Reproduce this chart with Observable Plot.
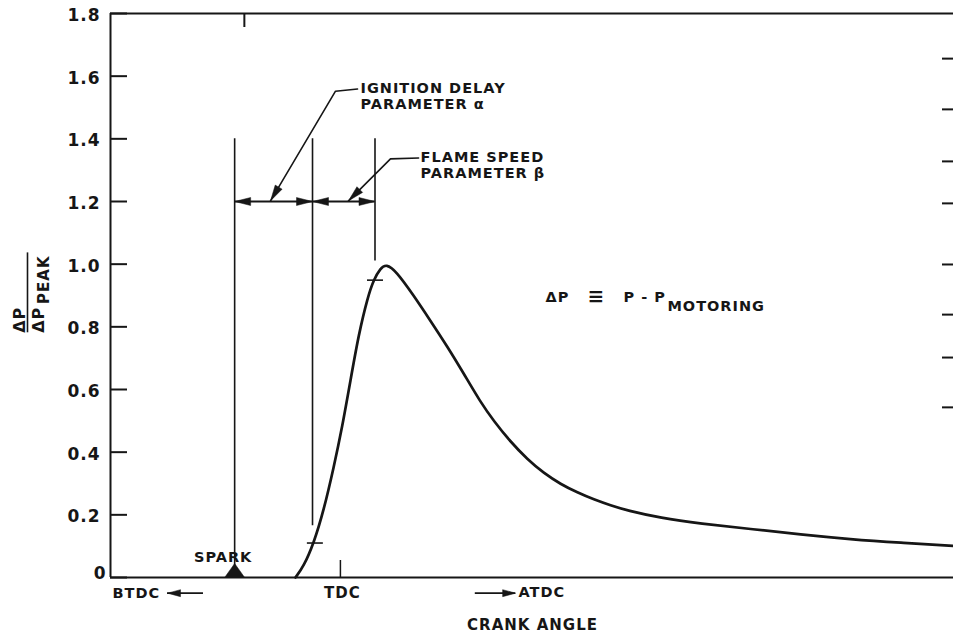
<!DOCTYPE html>
<html>
<head>
<meta charset="utf-8">
<script src="https://cdn.jsdelivr.net/npm/d3@7"></script>
<script src="https://cdn.jsdelivr.net/npm/@observablehq/plot@0.6"></script>
<style>
  html, body { margin: 0; padding: 0; background: #ffffff; }
  #chart svg { display: block; }
</style>
</head>
<body>
<div id="chart"></div>
<script>
// Normalised cylinder pressure rise ΔP/ΔP_peak against crank angle (degrees, TDC = 0)
const crankAngle = [-8.8, -7.2, -5.2, -3.25, -1.3, 0.35, 1.97, 3.6, 5.35, 6.5, 7.85, 9.0, 10.8, 14.35,
  17.6, 20.9, 24.1, 27.4, 30.0, 33.3, 36.6, 39.8, 43.1, 46.4, 49.6, 52.9, 56.1, 62.65, 70.5, 80.3,
  90.1, 99.8, 109.6, 120];
const pressureRatio = [0, 0.035, 0.11, 0.215, 0.352, 0.48, 0.629, 0.778, 0.895, 0.95, 0.988, 1.0, 0.98, 0.90,
  0.82, 0.738, 0.652, 0.56, 0.50, 0.433, 0.377, 0.333, 0.298, 0.271, 0.249, 0.230, 0.214, 0.190, 0.172, 0.155,
  0.137, 0.122, 0.111, 0.101];

// Left axis tick values and the unlabelled ticks on the right edge
const yTicks = [0, 0.2, 0.4, 0.6, 0.8, 1.0, 1.2, 1.4, 1.6, 1.8];
const rightTicks = [1.656, 1.494, 1.328, 1.194, 0.999, 0.839, 0.702, 0.543];

// Key crank angles
const sparkAngle = -20.7;      // spark
const delayEndAngle = -5.46;   // end of ignition delay (10 % point)
const flameEndAngle = 6.77;    // end of flame development (95 % point)
const tdcAngle = 0;
const topTickAngle = -18.8;

// Guide lines: angle, lower end, upper end
const guideX = [sparkAngle, delayEndAngle, flameEndAngle];
const guideLow = [0.03, 0.165, 1.01];
const guideHigh = [1.40, 1.40, 1.40];
const dimensionLevel = 1.2;

// 10 % and 95 % markers on the curve
const markerAngle = [-5.0, flameEndAngle];
const markerValue = [0.11, 0.949];

// Leader lines from the parameter labels to the dimension line
const ignitionLeaderX = [3.35, -0.96, -13.68];
const ignitionLeaderY = [1.559, 1.552, 1.202];
const flameLeaderX = [15.3, 9.8, 1.58];
const flameLeaderY = [1.339, 1.336, 1.202];

// Direction arrows under the axis
const btdcArrowX = [-33.84, -26.8];
const atdcArrowX = [26.4, 34.3];
const arrowLevel = -0.05;

// Text labels (start-anchored)
const labelText = ["IGNITION DELAY", "PARAMETER α", "FLAME SPEED", "PARAMETER β", "ΔP", "P - P", "MOTORING", "SPARK", "BTDC", "ATDC"];
const labelX = [3.93, 3.93, 15.68, 15.68, 40.14, 55.4, 64.0, -28.66, -44.6, 34.86];
const labelY = [1.562, 1.511, 1.342, 1.291, 0.895, 0.895, 0.864, 0.064, -0.051, -0.049];
// Text labels (centred)
const centeredText = ["TDC", "CRANK ANGLE"];
const centeredX = [0.4, 37.6];
const centeredY = [-0.049, -0.153];
const identityX = 50.1;   // position of the "≡" sign

const ink = "#161616";

// Filled arrowhead whose tip sits at the mark position, pointing along angle (deg, screen space)
function arrowHead(angle, len = 16, wid = 8) {
  const a = angle * Math.PI / 180;
  const ux = Math.cos(a), uy = Math.sin(a), nx = -uy, ny = ux;
  return {
    draw(ctx) {
      const bx = -len * ux, by = -len * uy;
      ctx.moveTo(0, 0);
      ctx.lineTo(bx + nx * wid / 2, by + ny * wid / 2);
      ctx.lineTo(bx - nx * wid / 2, by - ny * wid / 2);
      ctx.closePath();
    }
  };
}
// Spark marker: triangle standing on the axis
const sparkSymbol = {
  draw(ctx) { ctx.moveTo(-10, 0); ctx.lineTo(10, 0); ctx.lineTo(0, -14); ctx.closePath(); }
};
// Short horizontal dash across the curve
const dashSymbol = {
  draw(ctx) { ctx.moveTo(-8, 0); ctx.lineTo(8, 0); }
};

const curve = crankAngle.map((x, i) => ({x, y: pressureRatio[i]}));
const guides = guideX.map((x, i) => ({x, y1: guideLow[i], y2: guideHigh[i]}));
const markers = markerAngle.map((x, i) => ({x, y: markerValue[i]}));
const leaders = [
  ...ignitionLeaderX.map((x, i) => ({id: "alpha", x, y: ignitionLeaderY[i]})),
  ...flameLeaderX.map((x, i) => ({id: "beta", x, y: flameLeaderY[i]}))
];
const labels = labelText.map((text, i) => ({text, x: labelX[i], y: labelY[i]}));
const centered = centeredText.map((text, i) => ({text, x: centeredX[i], y: centeredY[i]}));
const last = a => a[a.length - 1];

const chart = Plot.plot({
  width: 953,
  height: 637,
  marginLeft: 110,
  marginRight: 0,
  marginTop: 13,
  marginBottom: 60,
  x: {domain: [-45, 120], axis: null},
  y: {domain: [0, 1.8], axis: null},
  style: {fontFamily: "'DejaVu Sans', sans-serif", fontWeight: "bold", fontSize: "15px", color: ink, background: "#ffffff", letterSpacing: "1px"},
  marks: [
    // frame: left axis, baseline, top border
    Plot.ruleX([-45], {stroke: ink, strokeWidth: 2}),
    Plot.ruleY([0], {stroke: ink, strokeWidth: 2.2}),
    Plot.ruleY([1.8], {stroke: ink, strokeWidth: 2}),
    // inward ticks
    Plot.tickY(yTicks, {y: d => d, insetRight: 826, stroke: ink, strokeWidth: 2}),
    Plot.tickY(rightTicks, {y: d => d, insetLeft: 832, stroke: ink, strokeWidth: 2}),
    Plot.tickX([tdcAngle], {x: d => d, insetTop: 547, stroke: ink, strokeWidth: 1.5}),
    Plot.tickX([topTickAngle], {x: d => d, insetBottom: 550, stroke: ink, strokeWidth: 2}),
    // tick labels
    Plot.axisY(yTicks.filter(d => d !== 0), {tickSize: 0, tickPadding: 10, tickFormat: d => d.toFixed(1), fontSize: 17, dy: 2}),
    Plot.axisY([0], {tickSize: 0, tickPadding: 4, tickFormat: () => "0", fontSize: 17, dy: -4}),
    // guide lines and dimension line
    Plot.ruleX(guides, {x: "x", y1: "y1", y2: "y2", stroke: ink, strokeWidth: 1.6}),
    Plot.ruleY([{y: dimensionLevel, x1: sparkAngle, x2: flameEndAngle}], {y: "y", x1: "x1", x2: "x2", stroke: ink, strokeWidth: 1.8}),
    Plot.dot([{x: sparkAngle, y: dimensionLevel}, {x: delayEndAngle, y: dimensionLevel}], {x: "x", y: "y", symbol: arrowHead(180), fill: ink, stroke: ink, strokeWidth: 0.5}),
    Plot.dot([{x: delayEndAngle, y: dimensionLevel}, {x: flameEndAngle, y: dimensionLevel}], {x: "x", y: "y", symbol: arrowHead(0), fill: ink, stroke: ink, strokeWidth: 0.5}),
    // leaders
    Plot.line(leaders, {x: "x", y: "y", z: "id", stroke: ink, strokeWidth: 1.6}),
    Plot.dot([{x: last(ignitionLeaderX), y: last(ignitionLeaderY)}], {x: "x", y: "y", symbol: arrowHead(120.6), fill: ink, stroke: ink, strokeWidth: 0.5}),
    Plot.dot([{x: last(flameLeaderX), y: last(flameLeaderY)}], {x: "x", y: "y", symbol: arrowHead(135), fill: ink, stroke: ink, strokeWidth: 0.5}),
    // pressure curve
    Plot.line(curve, {x: "x", y: "y", curve: "basis", stroke: ink, strokeWidth: 2.7}),
    Plot.dot(markers, {x: "x", y: "y", symbol: dashSymbol, stroke: ink, strokeWidth: 1.6, fill: "none"}),
    // spark marker
    Plot.dot([{x: sparkAngle, y: 0}], {x: "x", y: "y", symbol: sparkSymbol, fill: ink, stroke: ink, strokeWidth: 0.5}),
    // direction arrows
    Plot.ruleY([{y: arrowLevel, x1: btdcArrowX[0], x2: btdcArrowX[1]}, {y: arrowLevel, x1: atdcArrowX[0], x2: atdcArrowX[1]}], {y: "y", x1: "x1", x2: "x2", stroke: ink, strokeWidth: 1.8}),
    Plot.dot([{x: btdcArrowX[0], y: arrowLevel}], {x: "x", y: "y", symbol: arrowHead(180, 13, 7), fill: ink, stroke: ink, strokeWidth: 0.5}),
    Plot.dot([{x: atdcArrowX[1], y: arrowLevel}], {x: "x", y: "y", symbol: arrowHead(0, 13, 7), fill: ink, stroke: ink, strokeWidth: 0.5}),
    // text
    Plot.text(labels, {x: "x", y: "y", text: "text", textAnchor: "start", fontSize: 14.5, fill: ink}),
    Plot.text(centered, {x: "x", y: "y", text: "text", textAnchor: "middle", fontSize: 15, fill: ink}),
    Plot.text(["≡"], {x: identityX, y: 0.895, text: d => d, textAnchor: "middle", fontSize: 20, fill: ink}),
    // y-axis title: ΔP over ΔP_PEAK, rotated
    Plot.text(["ΔP"], {x: -45, y: 0.781, text: d => d, rotate: -90, textAnchor: "start", dx: -91, fontSize: 16, fill: ink}),
    Plot.text(["ΔP"], {x: -45, y: 0.781, text: d => d, rotate: -90, textAnchor: "start", dx: -72, fontSize: 16, fill: ink}),
    Plot.text(["PEAK"], {x: -45, y: 0.873, text: d => d, rotate: -90, textAnchor: "start", dx: -66, fontSize: 15, fill: ink}),
    Plot.ruleX([-45], {y1: 0.781, y2: 1.036, dx: -83, stroke: ink, strokeWidth: 1.6})
  ]
});

document.getElementById("chart").appendChild(chart);
</script>
</body>
</html>
